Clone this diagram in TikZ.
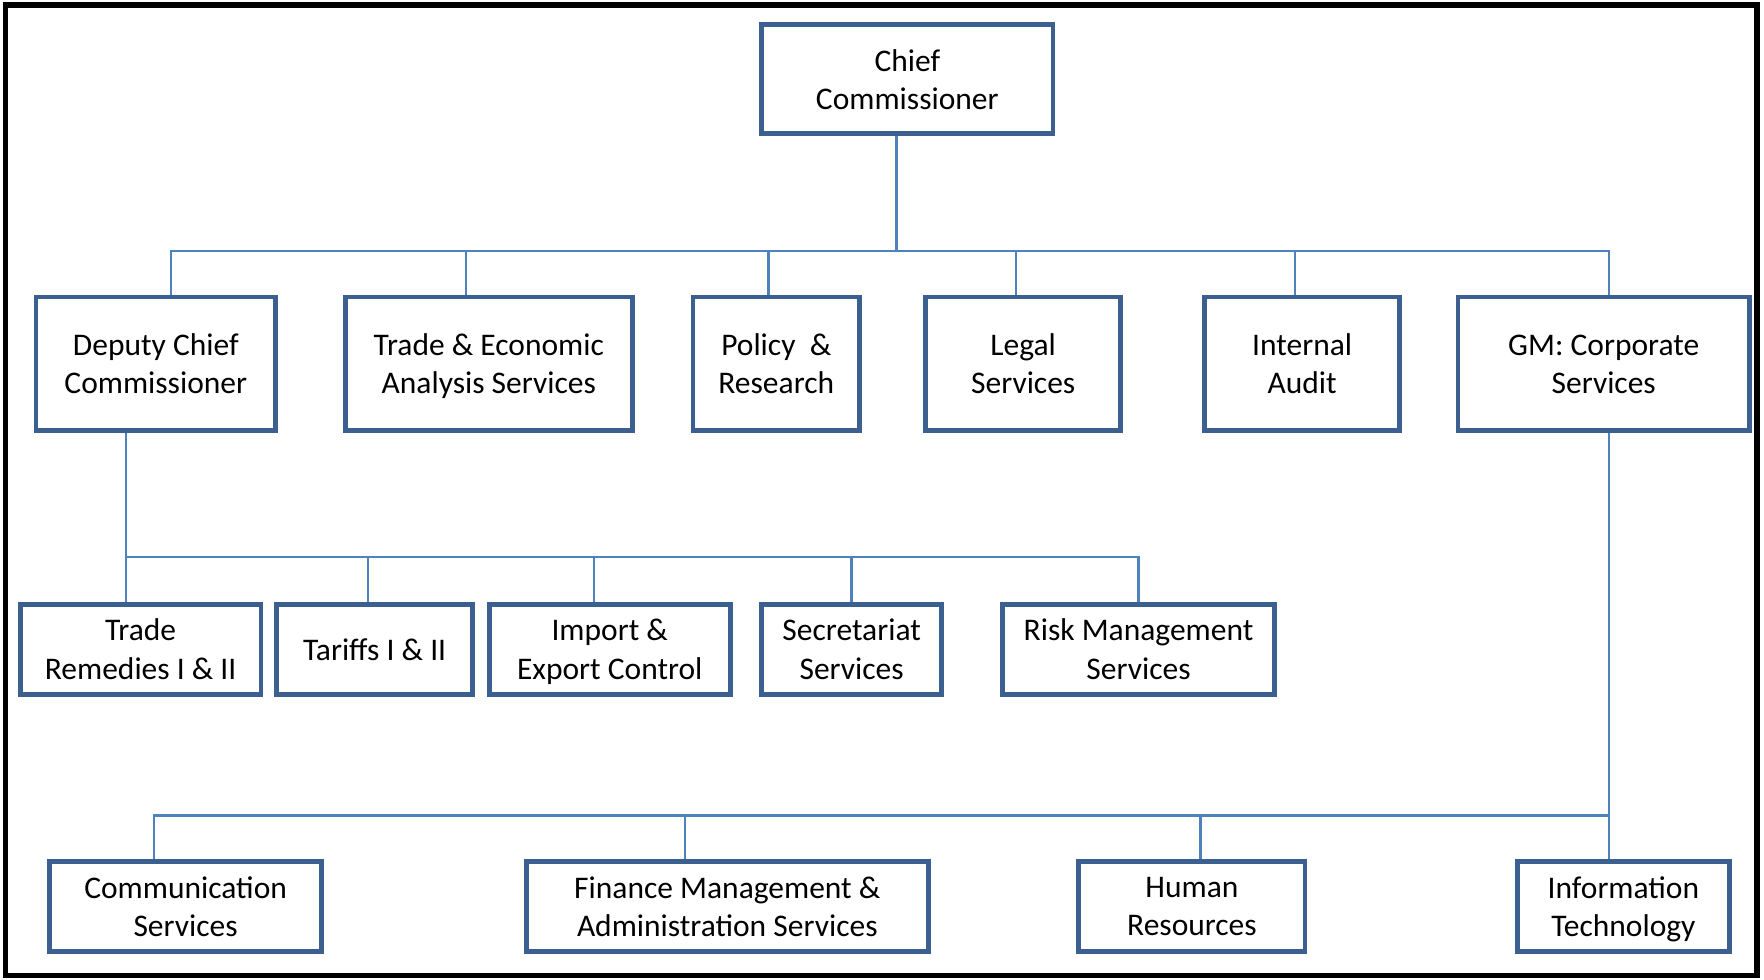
\documentclass[tikz,border=0pt]{standalone}
\usepackage{fontspec}
\setmainfont{Carlito}
\usetikzlibrary{calc}
\definecolor{boxblue}{HTML}{3B5F8F}
\definecolor{linkblue}{HTML}{4F81BD}
\tikzset{
  unit/.style={draw=boxblue, line width=2.2pt, align=center, inner sep=2pt, text depth=0pt},
  link/.style={draw=linkblue, line width=1.1pt}
}

\begin{document}
\begin{tikzpicture}[x=0.5pt, y=-0.5pt, font=\fontsize{14}{17}\selectfont]

\useasboundingbox (0,0) rectangle (1568,871);
\draw[line width=2.5pt] (5,4.5) rectangle (1562,867);

% top
\node[unit, minimum width=129.5pt, minimum height=48.5pt] (cc) at (806.5,70.5) {Chief\\Commissioner};

% first row
\node[unit, minimum width=106.5pt, minimum height=59.5pt] (dcc) at (138.5,323.5) {Deputy Chief\\Commissioner};
\node[unit, minimum width=127.5pt, minimum height=59.5pt] (teas) at (434.5,323.5) {Trade \& Economic\\Analysis Services};
\node[unit, minimum width=74pt, minimum height=59.5pt] (pr) at (690,323.5) {Policy~~\&\\Research};
\node[unit, minimum width=86.5pt, minimum height=59.5pt] (ls) at (909.5,323.5) {Legal\\Services};
\node[unit, minimum width=86.5pt, minimum height=59.5pt] (ia) at (1157.5,323.5) {Internal\\Audit};
\node[unit, minimum width=129.5pt, minimum height=59.5pt] (gm) at (1425.5,323.5) {GM: Corporate\\Services};

% under the deputy
\node[unit, minimum width=107pt, minimum height=40pt] (tr) at (125,577) {Trade\\Remedies I \& II};
\node[unit, minimum width=87pt, minimum height=40pt] (tar) at (333,577) {Tariffs I \& II};
\node[unit, minimum width=107pt, minimum height=40pt] (iec) at (542,577) {Import \&\\Export Control};
\node[unit, minimum width=80pt, minimum height=40pt] (ss) at (757,577) {Secretariat\\Services};
\node[unit, minimum width=121pt, minimum height=40pt] (rms) at (1012,577) {Risk Management\\Services};

% under corporate services
\node[unit, minimum width=121pt, minimum height=40pt] (cs) at (165,806) {Communication\\Services};
\node[unit, minimum width=178.5pt, minimum height=40pt] (fm) at (646.5,806) {Finance Management \&\\Administration Services};
\node[unit, minimum width=100.5pt, minimum height=40pt] (hr) at (1059.5,806) {Human\\Resources};
\node[unit, minimum width=94pt, minimum height=40pt] (it) at (1443,806) {Information\\Technology};

\coordinate (bus1) at (797,223);
\coordinate (bus2) at (112,495);
\coordinate (bus3) at (1430,725);

\draw[link] ([xshift=-4.75pt]cc.south) -- (bus1);
\draw[link] (bus1) -| ([xshift=6.75pt]dcc.north);
\draw[link] (bus1) -| ([xshift=-10.25pt]teas.north);
\draw[link] (bus1) -| ([xshift=-3.5pt]pr.north);
\draw[link] (bus1) -| ([xshift=-3.25pt]ls.north);
\draw[link] (bus1) -| ([xshift=-3.25pt]ia.north);
\draw[link] (bus1) -| ([xshift=2.25pt]gm.north);

\draw[link] ([xshift=-13.25pt]dcc.south) -- ([xshift=-6.5pt]tr.north);
\draw[link] (bus2) -| ([xshift=-3pt]tar.north);
\draw[link] (bus2) -| ([xshift=-7pt]iec.north);
\draw[link] (bus2) -| (ss.north);
\draw[link] (bus2) -| (rms.north);

\draw[link] ([xshift=2.25pt]gm.south) -- ([xshift=-6.5pt]it.north);
\draw[link] (bus3) -| ([xshift=-14pt]cs.north);
\draw[link] (bus3) -| ([xshift=-18.75pt]fm.north);
\draw[link] (bus3) -| ([xshift=3.75pt]hr.north);

\end{tikzpicture}
\end{document}
